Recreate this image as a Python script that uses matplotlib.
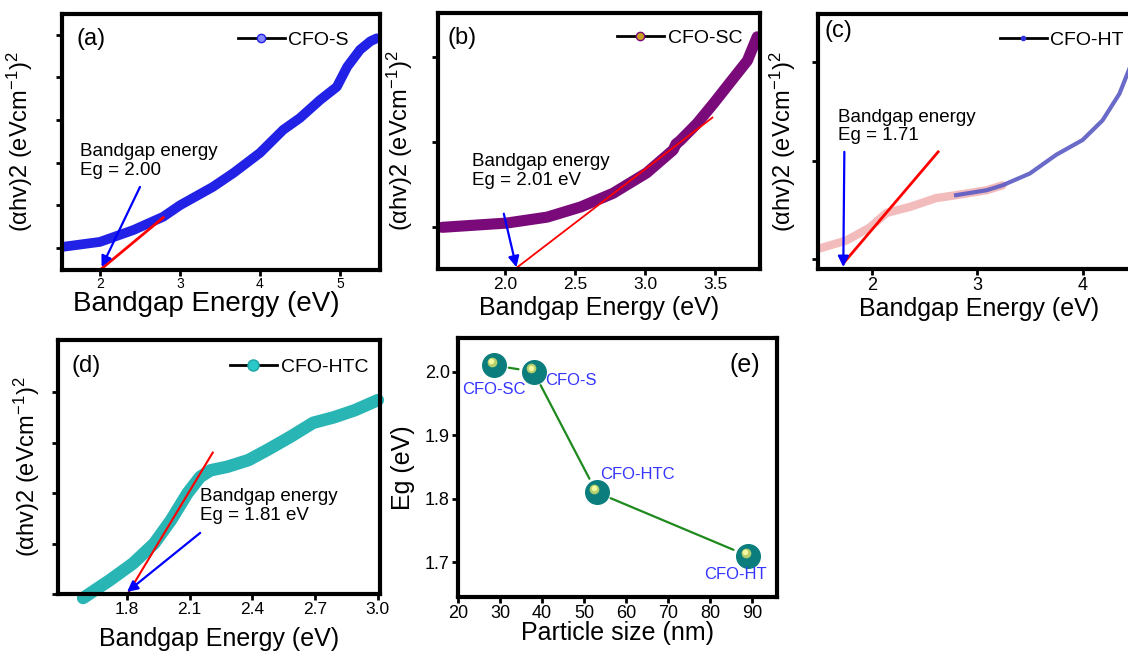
import numpy as np
import matplotlib
matplotlib.use('Agg')
import matplotlib.pyplot as plt
from matplotlib.lines import Line2D

plt.rcParams['font.family'] = ['Liberation Sans', 'DejaVu Sans']
plt.rcParams['mathtext.fontset'] = 'custom'
plt.rcParams['mathtext.rm'] = 'Liberation Sans'
plt.rcParams['mathtext.it'] = 'Liberation Sans:italic'

# (a) CFO-S
xa = [1.52, 2.0, 2.42, 2.79, 3.0, 3.41, 3.67, 4.0, 4.29, 4.5, 4.75, 4.96, 5.09, 5.25, 5.38, 5.46]
ya = [0.02, 0.14, 0.42, 0.73, 1.0, 1.43, 1.76, 2.23, 2.77, 3.05, 3.47, 3.78, 4.25, 4.65, 4.85, 4.92]
# (b) CFO-SC
xb = [1.55, 2.01, 2.3, 2.54, 2.77, 3.01, 3.2, 3.22, 3.25, 3.37, 3.49, 3.6, 3.73, 3.8]
yb = [0.0, 0.05, 0.12, 0.24, 0.4, 0.64, 0.91, 0.98, 1.02, 1.22, 1.46, 1.69, 1.96, 2.24]
# (c) CFO-HT
xc = [1.51, 1.76, 1.98, 2.14, 2.36, 2.61, 2.8, 3.09, 3.24, 3.5, 3.75, 4.0, 4.19, 4.35, 4.45]
yc = [0.11, 0.19, 0.32, 0.47, 0.53, 0.62, 0.65, 0.70, 0.75, 0.87, 1.06, 1.21, 1.41, 1.68, 1.95]
# (d) CFO-HTC
xd = [1.59, 1.72, 1.83, 1.93, 2.01, 2.09, 2.15, 2.2, 2.28, 2.38, 2.47, 2.58, 2.69, 2.79, 2.89, 3.0]
yd = [-0.08, 0.28, 0.61, 1.0, 1.46, 2.0, 2.32, 2.45, 2.52, 2.65, 2.85, 3.11, 3.39, 3.5, 3.64, 3.84]
# (e) band gap vs particle size
samples = ['CFO-SC', 'CFO-S', 'CFO-HTC', 'CFO-HT']
size_nm = [28.5, 38, 53, 89]
eg = [2.01, 2.00, 1.81, 1.71]

# tangent lines
tan_a = ([2.0, 2.79], [-0.52, 0.71])
tan_b = ([2.07, 3.48], [-0.49, 1.29])
tan_c = ([1.74, 2.63], [-0.03, 1.09])
tan_d = ([1.8, 2.21], [-0.02, 2.8])

W, H = 1128, 651


def box(l, r, t, b):
    return [l / W, (H - b) / H, (r - l) / W, (b - t) / H]


def style(ax):
    for s in ax.spines.values():
        s.set_linewidth(3)
    ax.tick_params(direction='out', length=4, width=2, pad=2)


def legend(ax, color, ms, mfc, x, y):
    h = Line2D([], [], color='black', lw=2, marker='o', ms=ms,
               markerfacecolor=mfc, markeredgecolor=color)
    ax.legend([h], [ax.get_label()], loc='center left', bbox_to_anchor=(x, y),
              frameon=False, borderpad=0, borderaxespad=0, handlelength=2.4,
              handletextpad=0.2, numpoints=1, fontsize=14)


def arrow(ax, tail, head):
    ax.annotate('', xy=head, xytext=tail,
                arrowprops=dict(arrowstyle='-|>', color='#0000ff', lw=1.6,
                                mutation_scale=16, shrinkA=0, shrinkB=0))


ylab = r'(αhv)2 (eVcm$^{-1}$)$^{2}$'
fig = plt.figure(figsize=(W / 100, H / 100), dpi=100)

# ---- (a)
ax = fig.add_axes(box(62, 380, 14, 270), label='CFO-S')
style(ax)
ax.plot(xa, ya, color='#2222e6', lw=7, solid_capstyle='round', solid_joinstyle='round')
ax.plot(*tan_a, color='#ff0000', lw=2)
arrow(ax, (2.5, 1.43), (2.02, -0.45))
ax.text(1.75, 2.45, 'Bandgap energy\nEg = 2.00', fontsize=13.5, va='top', linespacing=1.15)
ax.text(0.047, 0.945, '(a)', transform=ax.transAxes, fontsize=17, va='top')
ax.set_xlim(1.525, 5.5)
ax.set_ylim(-0.52, 5.49)
ax.set_xticks([2, 3, 4, 5])
ax.tick_params(axis='x', labelsize=10, pad=1)
ax.set_yticks(range(6))
ax.set_yticklabels([])
ax.set_xlabel('Bandgap Energy (eV)', fontsize=20)
ax.xaxis.set_label_coords(0.455, -0.082)
ax.set_ylabel(ylab, fontsize=17)
ax.yaxis.set_label_coords(-0.085, 0.5)
legend(ax, '#2222e6', 6, '#8888ff', 0.553, 0.898)

# ---- (b)
ax = fig.add_axes(box(438, 760, 13, 269), label='CFO-SC')
style(ax)
ax.plot(xb, yb, color='#7a0a7a', lw=8, solid_capstyle='round', solid_joinstyle='round')
ax.plot(*tan_b, color='#ff0000', lw=1.3)
arrow(ax, (1.99, 0.16), (2.08, -0.47))
ax.text(1.76, 0.87, 'Bandgap energy\nEg = 2.01 eV', fontsize=13.5, va='top', linespacing=1.15)
ax.text(0.031, 0.945, '(b)', transform=ax.transAxes, fontsize=17, va='top')
ax.set_xlim(1.52, 3.82)
ax.set_ylim(-0.49, 2.52)
ax.set_xticks([2.0, 2.5, 3.0, 3.5])
ax.set_xticklabels(['2.0', '2.5', '3.0', '3.5'])
ax.tick_params(axis='x', labelsize=12.5)
ax.set_yticks([0, 1, 2])
ax.set_yticklabels([])
ax.set_xlabel('Bandgap Energy (eV)', fontsize=18)
ax.xaxis.set_label_coords(0.5, -0.105)
ax.set_ylabel(ylab, fontsize=17)
ax.yaxis.set_label_coords(-0.071, 0.5)
legend(ax, '#7a0a7a', 6, '#c8a020', 0.556, 0.902)

# ---- (c)
ax = fig.add_axes(box(818, 1150, 14, 269), label='CFO-HT')
style(ax)
ax.plot(xc[:9], yc[:9], color='#f3bcbc', lw=6, solid_capstyle='round', solid_joinstyle='round')
ax.plot(xc[6:], yc[6:], color='#5a5ac4', lw=3, solid_joinstyle='round', alpha=0.9)
ax.plot(*tan_c, color='#ff0000', lw=2)
arrow(ax, (1.74, 1.09), (1.73, -0.08))
ax.text(1.68, 1.53, 'Bandgap energy\nEg = 1.71', fontsize=13.5, va='top', linespacing=1.15)
ax.text(0.021, 0.976, '(c)', transform=ax.transAxes, fontsize=17, va='top')
ax.set_xlim(1.49, 4.64)
ax.set_ylim(-0.1, 2.49)
ax.set_xticks([2, 3, 4])
ax.tick_params(axis='x', labelsize=13)
ax.set_yticks([0, 1, 2])
ax.set_yticklabels([])
ax.set_xlabel('Bandgap Energy (eV)', fontsize=18)
ax.xaxis.set_label_coords(0.485, -0.11)
ax.set_ylabel(ylab, fontsize=17)
ax.yaxis.set_label_coords(-0.06, 0.5)
legend(ax, '#3030dd', 3, '#3030dd', 0.548, 0.898)

# ---- (d)
ax = fig.add_axes(box(58, 380, 340, 594), label='CFO-HTC')
style(ax)
ax.plot(xd, yd, color='#2ab5b5', lw=9, solid_capstyle='round', solid_joinstyle='round',
        clip_on=False)
ax.plot(*tan_d, color='#ff0000', lw=1.5)
arrow(ax, (2.15, 1.21), (1.8, 0.04))
ax.text(2.15, 2.1, 'Bandgap energy\nEg = 1.81 eV', fontsize=13.5, va='top', linespacing=1.15)
ax.text(0.043, 0.94, '(d)', transform=ax.transAxes, fontsize=17, va='top')
ax.set_xlim(1.47, 3.01)
ax.set_ylim(0, 5.03)
ax.set_xticks([1.8, 2.1, 2.4, 2.7, 3.0])
ax.set_xticklabels(['1.8', '2.1', '2.4', '2.7', '3.0'])
ax.tick_params(axis='x', labelsize=12.5)
ax.set_yticks([0, 1, 2, 3, 4])
ax.set_yticklabels([])
ax.set_xlabel('Bandgap Energy (eV)', fontsize=18)
ax.xaxis.set_label_coords(0.5, -0.13)
ax.set_ylabel(ylab, fontsize=17)
ax.yaxis.set_label_coords(-0.05, 0.5)
legend(ax, '#1fa5a5', 8, '#2ac8c8', 0.534, 0.894)

# ---- (e)
ax = fig.add_axes(box(458, 777, 338, 597))
style(ax)
for i in range(len(size_nm) - 1):
    ax.annotate('', xy=(size_nm[i + 1], eg[i + 1]), xytext=(size_nm[i], eg[i]),
                arrowprops=dict(arrowstyle='-', color='#1e8a1e', lw=1.6,
                                shrinkA=11, shrinkB=11))
ax.plot(size_nm, eg, ls='none', marker='o', ms=17, color='#0b7d7d')
ax.plot(np.array(size_nm) - 0.5, np.array(eg) + 0.005, ls='none', marker='o',
        ms=7, color='#c8d86a', markeredgewidth=0, alpha=0.9)
ax.plot(np.array(size_nm) - 0.6, np.array(eg) + 0.006, ls='none', marker='o',
        ms=4, color='#f4f8a0', markeredgewidth=0)
lab_pos = [(28.6, 1.972, 'center'), (40.7, 1.986, 'left'),
           (53.8, 1.838, 'left'), (86.2, 1.68, 'center')]
for name, (lx, ly, ha) in zip(samples, lab_pos):
    ax.text(lx, ly, name, color='#3535ff', fontsize=12, ha=ha, va='center')
ax.text(0.947, 0.942, '(e)', transform=ax.transAxes, fontsize=18, va='top', ha='right')
ax.set_xlim(20, 96)
ax.set_ylim(1.645, 2.053)
ax.set_xticks(range(20, 100, 10))
ax.set_yticks([1.7, 1.8, 1.9, 2.0])
ax.set_yticklabels(['1.7', '1.8', '1.9', '2.0'])
ax.tick_params(labelsize=13)
ax.set_xlabel('Particle size (nm)', fontsize=18)
ax.xaxis.set_label_coords(0.5, -0.092)
ax.set_ylabel('Eg (eV)', fontsize=18)
ax.yaxis.set_label_coords(-0.135, 0.5)

fig.savefig('out.png', dpi=100)
